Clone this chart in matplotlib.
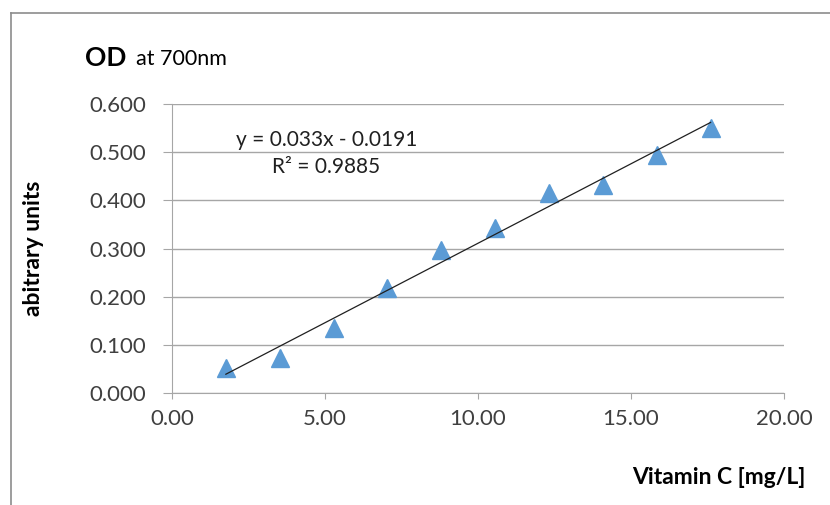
import numpy as np
import matplotlib.pyplot as plt
from matplotlib.lines import Line2D

# data
vit_c = [1.76, 3.52, 5.28, 7.04, 8.80, 10.56, 12.32, 14.08, 15.84, 17.60]
od_700 = [0.052, 0.072, 0.135, 0.218, 0.297, 0.342, 0.415, 0.432, 0.494, 0.550]
slope, intercept = 0.033, -0.0191
r2 = 0.9885
x_ticks = [0, 5, 10, 15, 20]
y_ticks = [0.0, 0.1, 0.2, 0.3, 0.4, 0.5, 0.6]

plt.rcParams['font.family'] = ['Lato', 'DejaVu Sans']
grey = '#a6a6a6'
txt = '#404040'

fig = plt.figure(figsize=(8.3, 5.05), dpi=100)
ax = fig.add_axes([172 / 830, 1 - 393 / 505, (784 - 172) / 830, (393 - 104) / 505])

ax.plot(vit_c, od_700, linestyle='none', marker='^', ms=13,
        color='#5b9bd5', zorder=3)

# linear trendline over the data range
xs = np.array([vit_c[0], vit_c[-1]])
ax.plot(xs, slope * xs + intercept, color='#202020', lw=0.9, zorder=4)

ax.set_xlim(0, 20)
ax.set_ylim(0, 0.6)
ax.set_xticks(x_ticks)
ax.set_yticks(y_ticks)
ax.set_xticklabels([f'{v:.2f}' for v in x_ticks])
ax.set_yticklabels([f'{v:.3f}' for v in y_ticks])
ax.yaxis.grid(True, color=grey, lw=1)
ax.set_axisbelow(True)
for s in ['top', 'right']:
    ax.spines[s].set_visible(False)
for s in ['left', 'bottom']:
    ax.spines[s].set_color(grey)
ax.tick_params(colors=grey, labelcolor=txt, labelsize=16)
ax.tick_params(axis='x', length=4.5, pad=7)
ax.tick_params(axis='y', length=6.5, pad=12)

ax.text(0.105, 0.855, f'y = {slope}x - {abs(intercept)}', transform=ax.transAxes,
        fontsize=15, color='#202020')
ax.text(0.163, 0.76, f'R\u00b2 = {r2}', transform=ax.transAxes,
        fontsize=15, color='#202020')

fig.text(85 / 830, 1 - 58 / 505, 'OD', fontsize=19, fontweight='bold', va='center')
fig.text(136 / 830, 1 - 59 / 505, 'at 700nm', fontsize=15.5, va='center')
fig.text(33 / 830, 1 - 248 / 505, 'abitrary units', fontsize=16.5, fontweight='bold',
         rotation=90, ha='center', va='center')
fig.text(805 / 830, 1 - 477 / 505, 'Vitamin C [mg/L]', fontsize=16.5,
         fontweight='bold', ha='right', va='center')

# outer chart frame
fig.add_artist(Line2D([11 / 830, 1.0], [1 - 13 / 505, 1 - 13 / 505],
                      transform=fig.transFigure, color='#8c8c8c', lw=1.2))
fig.add_artist(Line2D([11 / 830, 11 / 830], [0, 1 - 13 / 505],
                      transform=fig.transFigure, color='#8c8c8c', lw=1.2))

fig.savefig('out.png', dpi=100)
